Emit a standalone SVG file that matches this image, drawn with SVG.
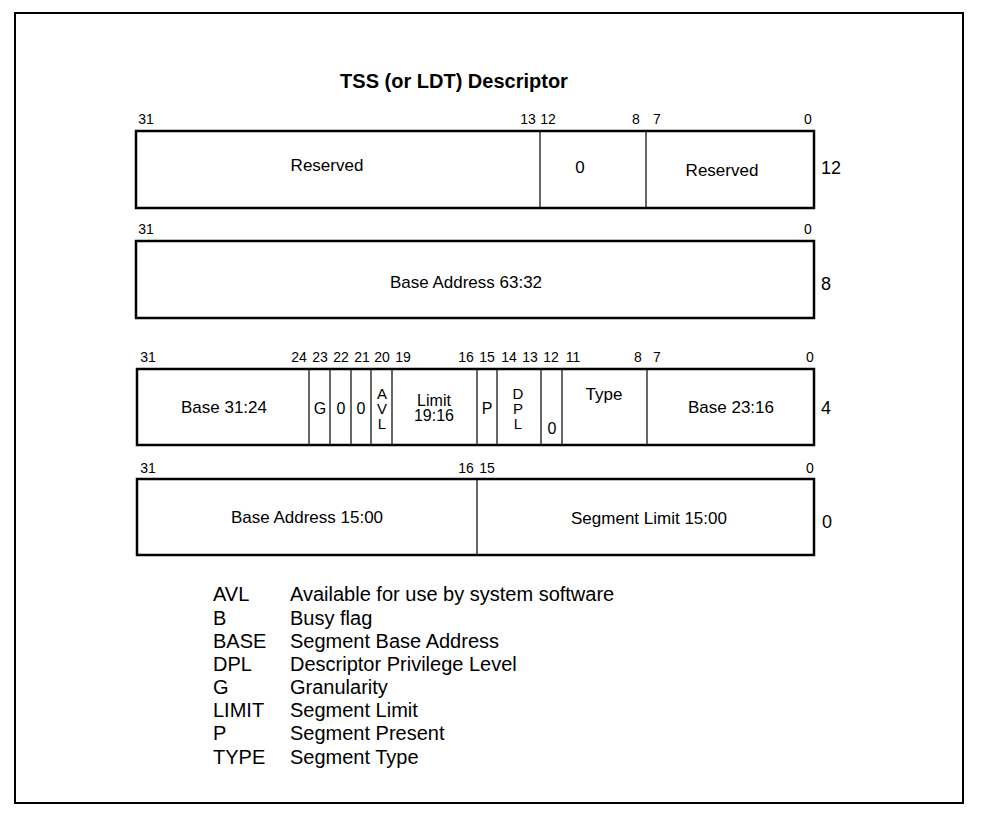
<svg xmlns="http://www.w3.org/2000/svg" width="982" height="814" viewBox="0 0 982 814">
<style>
text{font-family:"Liberation Sans",Arial,sans-serif;fill:#000}
.t{font-size:20px;font-weight:bold;text-anchor:middle}
.b{font-size:14px;text-anchor:middle}
.l{font-size:17px;text-anchor:middle}
.m{font-size:16px;text-anchor:middle}
.s{font-size:16px;text-anchor:middle}
.v{font-size:15px;text-anchor:middle}
.r{font-size:18px}
.g{font-size:20px}
.box{fill:#fff;stroke:#000;stroke-width:2.5}
.div{stroke:#000;stroke-width:1.2}
</style>
<rect x="0" y="0" width="982" height="814" fill="#fff"/>
<rect x="15" y="13" width="948" height="790" fill="none" stroke="#000" stroke-width="2"/>
<text class="t" x="454" y="88">TSS (or LDT) Descriptor</text>

<g id="row12">
<text class="b" x="146" y="124">31</text>
<text class="b" x="528" y="124">13</text>
<text class="b" x="548" y="124">12</text>
<text class="b" x="636" y="124">8</text>
<text class="b" x="657" y="124">7</text>
<text class="b" x="808" y="124">0</text>
<rect class="box" x="136" y="131" width="678" height="77"/>
<line class="div" x1="540" y1="131" x2="540" y2="208"/>
<line class="div" x1="646" y1="131" x2="646" y2="208"/>
<text class="l" x="327" y="171">Reserved</text>
<text class="l" x="580" y="173">0</text>
<text class="l" x="722" y="176">Reserved</text>
<text class="r" x="821" y="173.5">12</text>
</g>

<g id="row8">
<text class="b" x="146" y="234">31</text>
<text class="b" x="808" y="234">0</text>
<rect class="box" x="136" y="241" width="678" height="77"/>
<text class="l" x="466" y="288">Base Address 63:32</text>
<text class="r" x="821" y="289.5">8</text>
</g>

<g id="row4">
<text class="b" x="148" y="362">31</text>
<text class="b" x="299" y="362">24</text>
<text class="b" x="320" y="362">23</text>
<text class="b" x="341" y="362">22</text>
<text class="b" x="362" y="362">21</text>
<text class="b" x="382" y="362">20</text>
<text class="b" x="403" y="362">19</text>
<text class="b" x="466" y="362">16</text>
<text class="b" x="487" y="362">15</text>
<text class="b" x="509" y="362">14</text>
<text class="b" x="530" y="362">13</text>
<text class="b" x="551" y="362">12</text>
<text class="b" x="573" y="362">11</text>
<text class="b" x="638" y="362">8</text>
<text class="b" x="657" y="362">7</text>
<text class="b" x="810" y="362">0</text>
<rect class="box" x="137" y="369" width="677" height="76"/>
<line class="div" x1="309" y1="369" x2="309" y2="445"/>
<line class="div" x1="330" y1="369" x2="330" y2="445"/>
<line class="div" x1="351" y1="369" x2="351" y2="445"/>
<line class="div" x1="371" y1="369" x2="371" y2="445"/>
<line class="div" x1="392" y1="369" x2="392" y2="445"/>
<line class="div" x1="477" y1="369" x2="477" y2="445"/>
<line class="div" x1="497" y1="369" x2="497" y2="445"/>
<line class="div" x1="541" y1="369" x2="541" y2="445"/>
<line class="div" x1="562" y1="369" x2="562" y2="445"/>
<line class="div" x1="647" y1="369" x2="647" y2="445"/>
<text class="l" x="224" y="413">Base 31:24</text>
<text class="s" x="320" y="414">G</text>
<text class="s" x="341" y="414">0</text>
<text class="s" x="361" y="414">0</text>
<text class="v" x="382" y="399">A</text>
<text class="v" x="382" y="414">V</text>
<text class="v" x="382" y="429">L</text>
<text class="m" x="434" y="406">Limit</text>
<text class="m" x="434" y="421">19:16</text>
<text class="s" x="487" y="414">P</text>
<text class="v" x="518" y="399">D</text>
<text class="v" x="518" y="414">P</text>
<text class="v" x="518" y="429">L</text>
<text class="s" x="552" y="434">0</text>
<text class="l" x="604" y="400">Type</text>
<text class="l" x="731" y="413">Base 23:16</text>
<text class="r" x="821" y="413.5">4</text>
</g>

<g id="row0">
<text class="b" x="148" y="473">31</text>
<text class="b" x="466" y="473">16</text>
<text class="b" x="487" y="473">15</text>
<text class="b" x="810" y="473">0</text>
<rect class="box" x="137" y="479" width="677" height="76"/>
<line class="div" x1="477" y1="479" x2="477" y2="555"/>
<text class="l" x="307" y="523">Base Address 15:00</text>
<text class="l" x="649" y="524">Segment Limit 15:00</text>
<text class="r" x="822" y="527.5">0</text>
</g>

<g id="legend">
<text class="g" x="213" y="601">AVL</text><text class="g" x="290" y="601">Available for use by system software</text>
<text class="g" x="213" y="624.5">B</text><text class="g" x="290" y="624.5">Busy flag</text>
<text class="g" x="213" y="647.5">BASE</text><text class="g" x="290" y="647.5">Segment Base Address</text>
<text class="g" x="213" y="671">DPL</text><text class="g" x="290" y="671">Descriptor Privilege Level</text>
<text class="g" x="213" y="694.3">G</text><text class="g" x="290" y="694.3">Granularity</text>
<text class="g" x="213" y="717">LIMIT</text><text class="g" x="290" y="717">Segment Limit</text>
<text class="g" x="213" y="740">P</text><text class="g" x="290" y="740">Segment Present</text>
<text class="g" x="213" y="764">TYPE</text><text class="g" x="290" y="764">Segment Type</text>
</g>
<g id="connectors"/>
</svg>
